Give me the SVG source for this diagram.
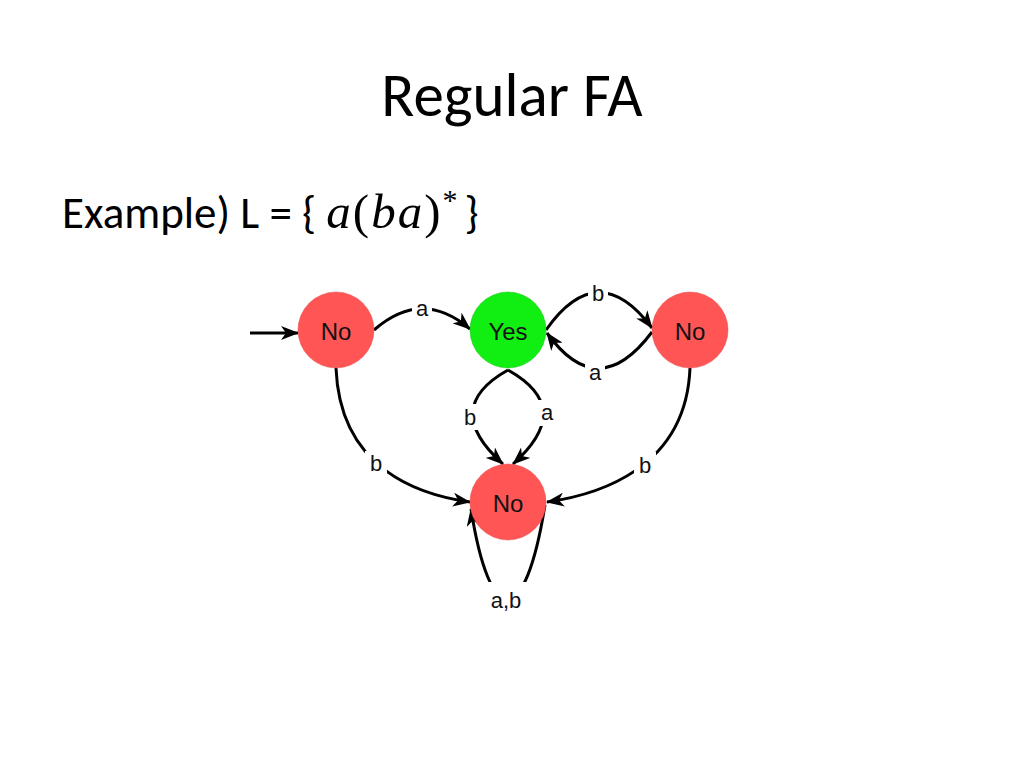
<svg xmlns="http://www.w3.org/2000/svg" width="1024" height="768" viewBox="0 0 1024 768">
<defs>
<marker id="arr" viewBox="0 0 18 14" refX="17" refY="7" markerWidth="18" markerHeight="14" markerUnits="userSpaceOnUse" orient="auto">
<path d="M0,0 L18,7 L0,14 L5,7 z" fill="#000"/>
</marker>
<style>
.node-red{fill:#FF5555;stroke:#e04848;stroke-width:0.5}
.node-green{fill:#11EE11;stroke:#0cc00c;stroke-width:0.5}
.nt{font-family:"Liberation Sans",Arial,sans-serif;font-size:24px;text-anchor:middle;dominant-baseline:central;fill:#111}
.el{fill:none;stroke:#000;stroke-width:3;marker-end:url(#arr)}
.lb{font-family:"Liberation Sans",Arial,sans-serif;font-size:22px;text-anchor:middle;dominant-baseline:central;fill:#111}
.bg{fill:#fff}
.m{font-family:"Liberation Serif","DejaVu Serif",serif}
</style>
</defs>
<rect width="1024" height="768" fill="#fff"/>
<text x="512" y="116" font-family="Carlito,Lato,'Open Sans',sans-serif" font-size="61" text-anchor="middle" fill="#000">Regular FA</text>
<text x="62" y="228" font-family="Carlito,Lato,'Open Sans',sans-serif" font-size="45" fill="#000">Example) L = { <tspan class="m" font-style="italic" font-size="49" letter-spacing="2">a</tspan><tspan class="m" font-size="49" letter-spacing="2">(</tspan><tspan class="m" font-style="italic" font-size="49" letter-spacing="2">ba</tspan><tspan class="m" font-size="49" letter-spacing="2">)</tspan><tspan class="m" font-size="30" dy="-18">*</tspan><tspan dy="18" dx="7">}</tspan></text>
<g id="edges">
<path class="el" d="M250,333 L298,333"/>
<path class="el" d="M374,330 Q422,288 470,329"/>
<rect class="bg" x="412" y="297" width="20" height="22"/>
<text class="lb" x="422" y="308">a</text>
<path class="el" d="M546,330 Q598,256 652,328"/>
<rect class="bg" x="588" y="282" width="20" height="22"/>
<text class="lb" x="598" y="293">b</text>
<path class="el" d="M652,332 Q598,404 547,333"/>
<rect class="bg" x="585" y="360" width="20" height="24"/>
<text class="lb" x="595" y="372">a</text>
<path class="el" d="M508,370 Q440,408 503,464"/>
<rect class="bg" x="459" y="404" width="22" height="26"/>
<text class="lb" x="470" y="417">b</text>
<path class="el" d="M508,370 Q576,408 513,464"/>
<rect class="bg" x="536" y="400" width="22" height="26"/>
<text class="lb" x="547" y="412">a</text>
<path class="el" d="M336,368 C340,470 420,495 470,502"/>
<rect class="bg" x="365" y="451" width="22" height="26"/>
<text class="lb" x="376" y="463">b</text>
<path class="el" d="M690,368 C686,470 596,495 547,502"/>
<rect class="bg" x="634" y="452" width="22" height="26"/>
<text class="lb" x="645" y="465">b</text>
<path class="el" d="M545,505 C525,630 490,630 471,509"/>
<rect class="bg" x="485" y="582" width="42" height="32"/>
<text class="lb" x="506" y="600">a,b</text>
</g>
<g id="n1"><circle class="node-red" cx="336" cy="330" r="38"/><text class="nt" x="336" y="331">No</text></g>
<g id="n2"><circle class="node-green" cx="508" cy="330" r="38"/><text class="nt" x="508" y="331">Yes</text></g>
<g id="n3"><circle class="node-red" cx="690" cy="330" r="38"/><text class="nt" x="690" y="331">No</text></g>
<g id="n4"><circle class="node-red" cx="508" cy="502" r="38"/><text class="nt" x="508" y="503">No</text></g>
</svg>
